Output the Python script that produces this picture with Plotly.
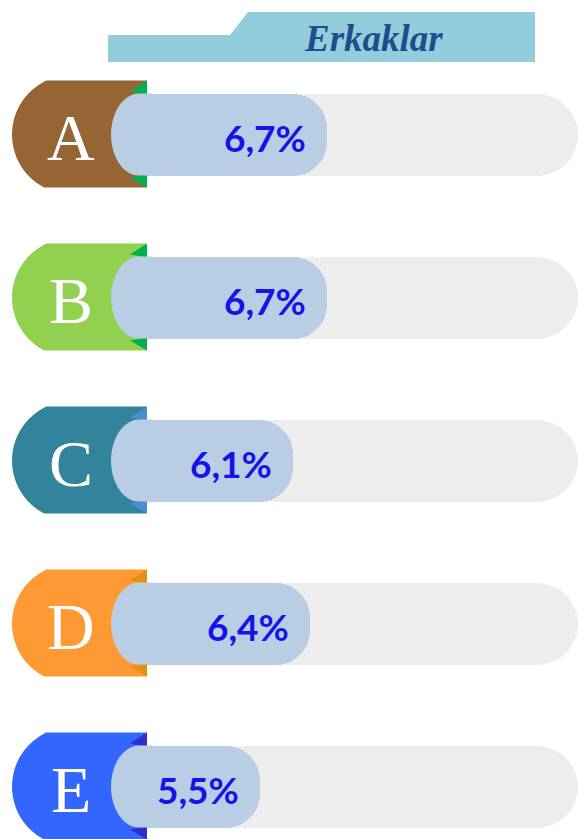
import numpy as np
import plotly.graph_objects as go

# ---- data ----
categories = ["A", "B", "C", "D", "E"]
values = [6.7, 6.7, 6.1, 6.4, 5.5]
labels = ["6,7%", "6,7%", "6,1%", "6,4%", "5,5%"]
title_text = "Erkaklar"

# ---- style ----
badge_colors = ["#956634", "#92D050", "#31849B", "#FF9933", "#3366FF"]
accent_colors = ["#00B050", "#00B050", "#4A8FD0", "#E0920F", "#3030C8"]
pill_color = "#B9CDE5"
track_color = "#EDEDED"
value_color = "#1414E6"

W, H = 580, 839
ROW0, PITCH = 134.6, 163.0          # pixel centre of first row, row pitch
X_LO, X_HI = 0.824, 11.255          # x range (value units)
BAR_W = 82 / PITCH
TRACK_END = X_HI - 0.04


def X(px):
    return px / W


def Y(py):
    return 1 - py / H


def path(points):
    return "M " + " L ".join(f"{X(px):.5f},{Y(py):.5f}" for px, py in points) + " Z"


n = len(categories)
fig = go.Figure()

fig.add_trace(go.Bar(
    y=categories, x=[TRACK_END] * n, base=0, orientation="h",
    width=BAR_W, marker=dict(color=track_color, cornerradius="50%", line_width=0),
    hoverinfo="skip", showlegend=False,
))
fig.add_trace(go.Bar(
    y=categories, x=values, base=0, orientation="h", width=BAR_W,
    marker=dict(color=pill_color, cornerradius=34, line_width=0),
    showlegend=False,
))

shapes = []
annotations = []

# header banner
shapes.append(dict(type="path", xref="paper", yref="paper", layer="above",
                   path=path([(108, 62), (108, 35), (230, 35), (248, 12), (535, 12), (535, 62)]),
                   fillcolor="#92CDDC", line_width=0))
annotations.append(dict(xref="paper", yref="paper", x=X(373), y=Y(39), text=f"<b><i>{title_text}</i></b>",
                        showarrow=False, font=dict(family="Liberation Serif", size=37, color="#1F4E8C"),
                        xanchor="center", yanchor="middle"))

for i, cat in enumerate(categories):
    c = ROW0 + PITCH * i
    top, bot = c - 54, c + 53
    # white mask hiding the bar stubs left of the badge
    shapes.append(dict(type="rect", xref="paper", yref="paper", layer="above",
                       x0=X(0), x1=X(60), y0=Y(c - 45), y1=Y(c + 45),
                       fillcolor="white", line_width=0))
    # left convex arc: circle through (45,top), (12,c), (45,bot)
    h, d = 53.5, 33.0
    r = (d * d + h * h) / (2 * d)
    cx = 12 + r
    ys = np.linspace(bot, top, 26)
    arc = [(cx - np.sqrt(max(r * r - (yy - c) ** 2, 0)), yy) for yy in ys]
    pts = [(45, top), (147, top), (147, bot)] + arc
    shapes.append(dict(type="path", xref="paper", yref="paper", layer="above", path=path(pts),
                       fillcolor=badge_colors[i], line_width=0))
    # accent fold triangles
    shapes.append(dict(type="path", xref="paper", yref="paper", layer="above",
                       path=path([(130, c - 43), (147, top), (147, c - 40)]),
                       fillcolor=accent_colors[i], line_width=0))
    shapes.append(dict(type="path", xref="paper", yref="paper", layer="above",
                       path=path([(130, c + 43), (147, bot), (147, c + 40)]),
                       fillcolor=accent_colors[i], line_width=0))
    # pill left cap (half ellipse)
    t = np.linspace(np.pi / 2, 3 * np.pi / 2, 30)
    ecx, rx, ry = 139.0, 28.0, 41.0
    cap = [(ecx + rx * np.cos(a), c - ry * np.sin(a)) for a in t]
    cap_pts = [(152, c - ry)] + cap + [(152, c + ry)]
    shapes.append(dict(type="path", xref="paper", yref="paper", layer="above", path=path(cap_pts),
                       fillcolor=pill_color, line_width=0))
    annotations.append(dict(xref="paper", yref="paper", x=X(71), y=Y(c + 3), text=cat, showarrow=False,
                            font=dict(family="Liberation Serif", size=66, color="white"),
                            xanchor="center", yanchor="middle"))
    # value label, anchored to the bar end
    annotations.append(dict(xref="x", yref="y", x=values[i], y=cat, text=f"<b>{labels[i]}</b>",
                            showarrow=False, xanchor="right", yanchor="middle", xshift=-19, yshift=-3,
                            font=dict(family="Lato", size=37, color=value_color)))

fig.update_layout(
    width=W, height=H, autosize=False,
    margin=dict(l=0, r=0, t=0, b=0, pad=0),
    paper_bgcolor="white", plot_bgcolor="white",
    barmode="overlay", bargap=0,
    xaxis=dict(range=[X_LO, X_HI], visible=False, fixedrange=True),
    yaxis=dict(type="category", categoryorder="array", categoryarray=categories,
               range=[(H - ROW0) / PITCH, -ROW0 / PITCH], visible=False, fixedrange=True),
    shapes=shapes, annotations=annotations,
)

fig.write_html("out.html", config={"displayModeBar": False},
               post_script="document.body.style.margin='0';document.body.style.overflow='hidden';")
